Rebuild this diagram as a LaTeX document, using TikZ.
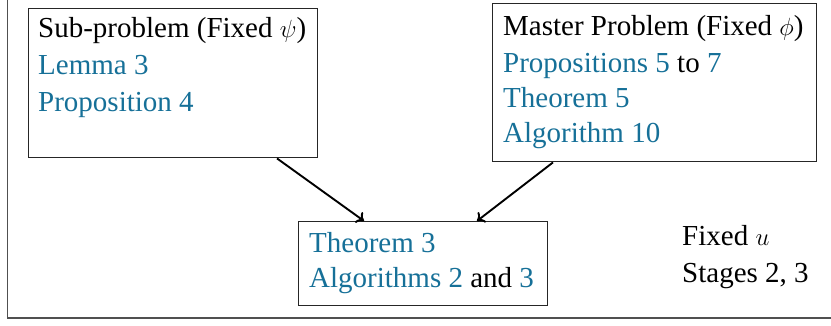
\documentclass[tikz,border=0pt]{standalone}
\usepackage{fontspec}
\setmainfont{Liberation Serif}
\usetikzlibrary{arrows.meta}
\definecolor{refblue}{RGB}{22,112,152}
\definecolor{framegray}{RGB}{80,80,80}
\newcommand{\rf}[1]{\textcolor{refblue}{#1}}
\tikzset{
  x=1pt, y=-1pt,
  boxnode/.style={draw=black!85, line width=1.4pt, inner sep=0pt, anchor=north west},
  txt/.style={anchor=base west, inner sep=0pt, font=\fontsize{29}{34}\selectfont},
  link/.style={line width=1.9pt, -{To[length=7pt,width=13pt]}},
}
\begin{document}
\begin{tikzpicture}
\useasboundingbox (0,0) rectangle (831,325);
% partial outer frame
\draw[framegray, line width=1.8pt] (7.5,0) coordinate (ftop) -- (7.5,318) coordinate (fcorner) -- (831,318) coordinate (fright);

% boxes
\node[boxnode, minimum width=289pt, minimum height=149pt] (sub) at (28,8) {};
\node[boxnode, minimum width=324pt, minimum height=158pt] (master) at (492,3) {};
\node[boxnode, minimum width=249pt, minimum height=84pt] (res) at (298,221) {};

% texts
\node[txt] (s1) at (38,37) {Sub-problem (Fixed $\psi$)};
\node[txt] (s2) at (38,74) {\rf{Lemma 3}};
\node[txt] (s3) at (38,111) {\rf{Proposition 4}};

\node[txt] (m1) at (503,35) {Master Problem (Fixed $\phi$)};
\node[txt] (m2) at (503,72) {\rf{Propositions 5} to \rf{7}};
\node[txt] (m3) at (503,107) {\rf{Theorem 5}};
\node[txt] (m4) at (503,142) {\rf{Algorithm 10}};

\node[txt] (r1) at (309,252) {\rf{Theorem 3}};
\node[txt] (r2) at (309,287) {\rf{Algorithms 2} and \rf{3}};

\node[txt] (u1) at (682,245) {Fixed $u$};
\node[txt] (u2) at (682,282) {Stages 2, 3};

% connectors
\draw[link] ([xshift=249pt]sub.south west) -- ([xshift=66pt]res.north west);
\draw[link] ([xshift=61pt]master.south west) -- ([xshift=179pt]res.north west);
\end{tikzpicture}
\end{document}
